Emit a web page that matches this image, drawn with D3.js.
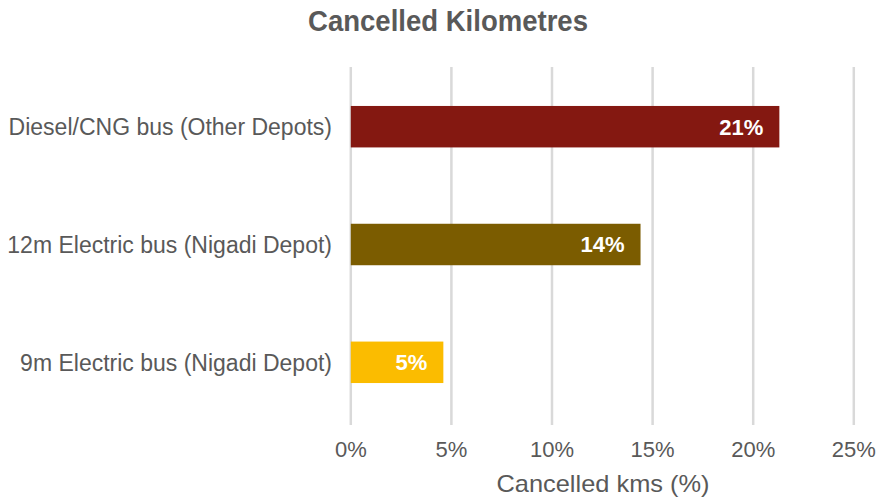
<!DOCTYPE html>
<html>
<head>
<meta charset="utf-8">
<script src="https://cdn.jsdelivr.net/npm/d3@7"></script>
<style>
  body { margin: 0; background: #fff; }
  text { font-family: "Liberation Sans", Arial, sans-serif; }
</style>
</head>
<body>
<div id="canvas"></div>
<script>
"use strict";

/* Data */
let categories = ["Diesel/CNG bus (Other Depots)", "12m Electric bus (Nigadi Depot)", "9m Electric bus (Nigadi Depot)"];
let values = [21.3, 14.4, 4.6];
let valueLabels = ["21%", "14%", "5%"];
let barColors = ["#841811", "#7b5c00", "#fbbc00"];
let xTicks = [0, 5, 10, 15, 20, 25];

/* Drawing sizes */
let svgWidth = 879;
let svgHeight = 501;
let plotLeft = 350.8;
let plotRight = 853.8;
let plotTop = 67;
let plotBottom = 425;

let svg = d3.select("#canvas")
  .append("svg")
  .attr("width", svgWidth)
  .attr("height", svgHeight);

let xScale = d3.scaleLinear()
  .domain([0, 25])
  .range([plotLeft, plotRight]);

let yScale = d3.scaleBand()
  .domain(categories)
  .range([65.5, 423.5])
  .paddingInner(0.648)
  .paddingOuter(0.3435);

/* Grid lines */
svg.selectAll("line.grid")
  .data(xTicks)
  .enter()
  .append("line")
  .attr("class", "grid")
  .attr("x1", d => xScale(d))
  .attr("x2", d => xScale(d))
  .attr("y1", plotTop)
  .attr("y2", plotBottom)
  .attr("stroke", "#d9d9d9")
  .attr("stroke-width", 2.5);

/* Bars */
svg.selectAll("rect.bar")
  .data(values)
  .enter()
  .append("rect")
  .attr("class", "bar")
  .attr("x", xScale(0))
  .attr("y", (d, i) => yScale(categories[i]))
  .attr("width", d => xScale(d) - xScale(0))
  .attr("height", yScale.bandwidth())
  .attr("fill", (d, i) => barColors[i]);

/* Value labels */
svg.selectAll("text.value")
  .data(values)
  .enter()
  .append("text")
  .attr("class", "value")
  .attr("x", d => xScale(d) - 16)
  .attr("y", (d, i) => yScale(categories[i]) + yScale.bandwidth() / 2)
  .attr("dy", "0.36em")
  .attr("text-anchor", "end")
  .attr("fill", "#fff")
  .attr("font-weight", "bold")
  .attr("font-size", "22px")
  .text((d, i) => valueLabels[i]);

/* Category labels */
svg.selectAll("text.cat")
  .data(categories)
  .enter()
  .append("text")
  .attr("class", "cat")
  .attr("x", 332)
  .attr("y", d => yScale(d) + yScale.bandwidth() / 2)
  .attr("dy", "0.36em")
  .attr("text-anchor", "end")
  .attr("fill", "#595959")
  .attr("font-size", "23px")
  .text(d => d);

/* X tick labels */
svg.selectAll("text.tick")
  .data(xTicks)
  .enter()
  .append("text")
  .attr("class", "tick")
  .attr("x", d => xScale(d))
  .attr("y", 457)
  .attr("text-anchor", "middle")
  .attr("fill", "#595959")
  .attr("font-size", "22px")
  .text(d => d + "%");

/* Axis title */
svg.append("text")
  .attr("x", 603)
  .attr("y", 492)
  .attr("text-anchor", "middle")
  .attr("fill", "#595959")
  .attr("font-size", "24px")
  .attr("textLength", 213)
  .attr("lengthAdjust", "spacingAndGlyphs")
  .text("Cancelled kms (%)");

/* Chart title */
svg.append("text")
  .attr("x", 448)
  .attr("y", 31)
  .attr("text-anchor", "middle")
  .attr("fill", "#595959")
  .attr("font-weight", "bold")
  .attr("font-size", "29px")
  .attr("textLength", 280)
  .attr("lengthAdjust", "spacingAndGlyphs")
  .text("Cancelled Kilometres");
</script>
</body>
</html>
